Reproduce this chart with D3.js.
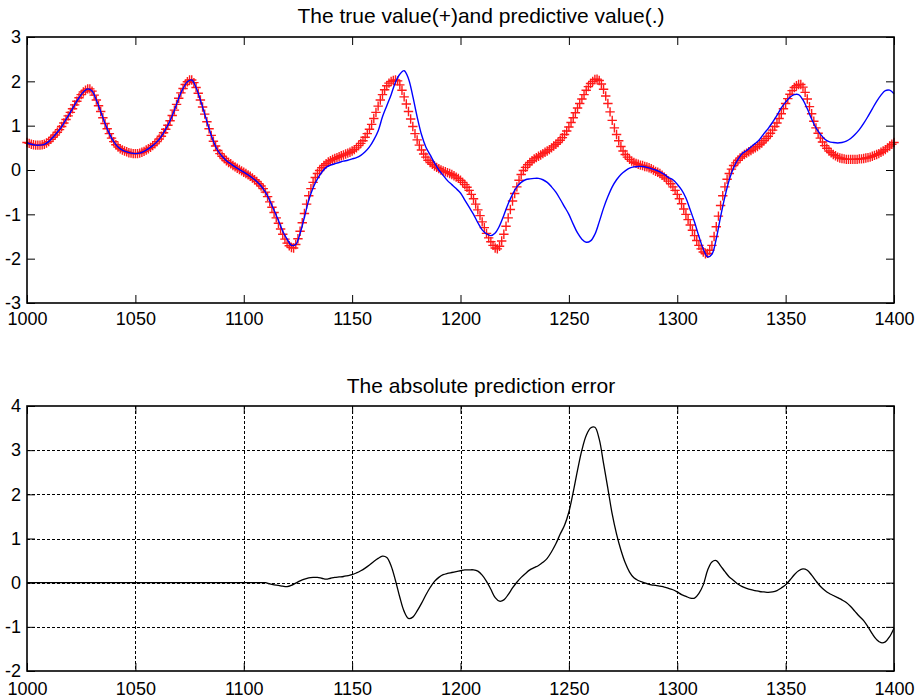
<!DOCTYPE html>
<html>
<head>
<meta charset="utf-8">
<script src="https://cdn.jsdelivr.net/npm/d3@7"></script>
<style>
  html, body { margin: 0; padding: 0; background: #fff; }
  svg { display: block; font-family: Arial, "Liberation Sans", sans-serif; }
</style>
</head>
<body>
<svg id="chart" width="921" height="698"></svg>
<script>
// Time index of the first sample
const xStart = 1000;

// True series, one value per time step (1000..1400)
const trueValues = [
  0.62,0.60,0.58,0.57,0.56,0.56,0.56,0.57,0.58,0.61,
  0.64,0.69,0.74,0.79,0.85,0.91,0.98,1.06,1.14,1.22,
  1.30,1.38,1.47,1.55,1.63,1.70,1.76,1.80,1.83,1.83,
  1.78,1.69,1.58,1.45,1.32,1.18,1.05,0.93,0.82,0.72,
  0.64,0.57,0.52,0.48,0.45,0.43,0.41,0.39,0.38,0.37,
  0.37,0.37,0.38,0.40,0.42,0.45,0.48,0.51,0.55,0.59,
  0.64,0.70,0.76,0.84,0.92,1.01,1.11,1.23,1.35,1.48,
  1.62,1.74,1.84,1.93,1.99,2.03,2.03,1.97,1.86,1.73,
  1.58,1.42,1.26,1.09,0.93,0.78,0.65,0.54,0.44,0.37,
  0.31,0.26,0.21,0.17,0.14,0.10,0.07,0.04,0.01,-0.02,
  -0.05,-0.08,-0.11,-0.14,-0.18,-0.22,-0.26,-0.31,-0.36,-0.42,
  -0.50,-0.60,-0.72,-0.84,-0.96,-1.08,-1.20,-1.33,-1.45,-1.56,
  -1.65,-1.71,-1.75,-1.76,-1.68,-1.55,-1.38,-1.19,-0.98,-0.77,
  -0.58,-0.42,-0.28,-0.17,-0.08,-0.01,0.05,0.10,0.14,0.18,
  0.21,0.24,0.26,0.28,0.30,0.32,0.34,0.36,0.38,0.40,
  0.43,0.46,0.50,0.55,0.60,0.66,0.74,0.82,0.92,1.03,
  1.16,1.30,1.44,1.58,1.70,1.81,1.90,1.96,2.00,2.02,
  2.03,2.01,1.92,1.80,1.65,1.49,1.32,1.15,0.98,0.82,
  0.68,0.56,0.45,0.36,0.29,0.22,0.17,0.13,0.09,0.06,
  0.03,0.00,-0.02,-0.04,-0.06,-0.08,-0.10,-0.13,-0.16,-0.19,
  -0.23,-0.28,-0.33,-0.39,-0.46,-0.55,-0.65,-0.77,-0.90,-1.03,
  -1.17,-1.30,-1.43,-1.53,-1.62,-1.70,-1.76,-1.78,-1.72,-1.60,
  -1.45,-1.27,-1.08,-0.89,-0.70,-0.53,-0.38,-0.23,-0.10,-0.01,
  0.06,0.12,0.17,0.21,0.25,0.28,0.31,0.34,0.37,0.40,
  0.43,0.46,0.50,0.54,0.58,0.62,0.67,0.73,0.80,0.88,
  0.97,1.07,1.18,1.29,1.40,1.50,1.60,1.70,1.80,1.88,
  1.95,2.00,2.04,2.05,2.02,1.94,1.82,1.67,1.50,1.31,
  1.12,0.95,0.80,0.66,0.53,0.43,0.35,0.29,0.24,0.20,
  0.17,0.15,0.13,0.11,0.10,0.08,0.07,0.05,0.03,0.00,
  -0.03,-0.05,-0.08,-0.12,-0.16,-0.20,-0.25,-0.31,-0.38,-0.46,
  -0.55,-0.65,-0.76,-0.88,-1.00,-1.12,-1.24,-1.36,-1.48,-1.59,
  -1.70,-1.78,-1.85,-1.89,-1.88,-1.81,-1.70,-1.50,-1.28,-1.04,
  -0.80,-0.58,-0.38,-0.21,-0.08,0.02,0.10,0.16,0.22,0.27,
  0.31,0.35,0.38,0.41,0.44,0.47,0.50,0.53,0.57,0.61,
  0.66,0.71,0.76,0.83,0.90,0.98,1.06,1.16,1.27,1.38,
  1.50,1.61,1.71,1.79,1.86,1.90,1.93,1.93,1.87,1.75,
  1.60,1.43,1.27,1.10,0.95,0.83,0.72,0.63,0.55,0.49,
  0.43,0.39,0.35,0.32,0.29,0.27,0.26,0.25,0.24,0.24,
  0.24,0.24,0.24,0.24,0.25,0.25,0.26,0.27,0.28,0.29,
  0.31,0.33,0.35,0.37,0.40,0.43,0.46,0.50,0.54,0.58,
  0.62
];

// Predicted series and prediction error, sampled every 2 time steps
const sampleStep = 2;
const predValues = [
  0.62,0.58,0.56,0.56,0.58,0.64,0.74,0.85,0.98,1.14,
  1.30,1.47,1.63,1.76,1.83,1.78,1.58,1.32,1.05,0.82,
  0.64,0.52,0.45,0.41,0.38,0.37,0.38,0.42,0.48,0.55,
  0.64,0.76,0.92,1.11,1.35,1.62,1.84,1.99,2.03,1.86,
  1.58,1.26,0.93,0.65,0.44,0.31,0.21,0.14,0.07,0.01,
  -0.05,-0.11,-0.18,-0.26,-0.36,-0.50,-0.69,-0.91,-1.14,-1.38,
  -1.56,-1.70,-1.68,-1.43,-1.06,-0.68,-0.40,-0.20,-0.05,0.06,
  0.11,0.14,0.17,0.20,0.22,0.25,0.28,0.33,0.41,0.52,
  0.68,0.88,1.20,1.45,1.70,1.98,2.16,2.24,2.06,1.66,
  1.20,0.80,0.52,0.34,0.16,0.00,-0.12,-0.24,-0.33,-0.42,
  -0.52,-0.68,-0.84,-1.00,-1.19,-1.35,-1.44,-1.48,-1.42,-1.26,
  -1.02,-0.76,-0.55,-0.38,-0.28,-0.22,-0.20,-0.19,-0.19,-0.22,
  -0.28,-0.38,-0.50,-0.66,-0.83,-1.00,-1.22,-1.42,-1.56,-1.63,
  -1.60,-1.45,-1.17,-0.86,-0.60,-0.38,-0.22,-0.10,-0.02,0.04,
  0.07,0.08,0.08,0.06,0.03,0.00,-0.04,-0.10,-0.17,-0.22,
  -0.32,-0.45,-0.63,-0.90,-1.18,-1.50,-1.78,-1.96,-1.90,-1.55,
  -1.05,-0.60,-0.22,0.05,0.24,0.37,0.44,0.52,0.60,0.69,
  0.82,0.94,1.08,1.23,1.40,1.53,1.64,1.70,1.70,1.58,
  1.38,1.15,0.95,0.81,0.70,0.64,0.62,0.61,0.62,0.65,
  0.71,0.80,0.91,1.05,1.21,1.38,1.55,1.69,1.79,1.80,
  1.72
];

const errorValues = [
  0,0,0,0,0,0,0,0,0,0,
  0,0,0,0,0,0,0,0,0,0,
  0,0,0,0,0,0,0,0,0,0,
  0,0,0,0,0,0,0,0,0,0,
  0,0,0,0,0,0,0,0,0,0,
  0,0,0,0,0,0,-0.03,-0.05,-0.06,-0.08,
  -0.09,-0.06,-0.01,0.04,0.08,0.11,0.12,0.12,0.10,0.08,
  0.10,0.12,0.13,0.14,0.16,0.18,0.22,0.27,0.33,0.40,
  0.48,0.55,0.60,0.57,0.38,0.05,-0.33,-0.65,-0.81,-0.78,
  -0.64,-0.47,-0.28,-0.11,0.03,0.12,0.18,0.21,0.23,0.25,
  0.27,0.29,0.29,0.29,0.26,0.17,0.03,-0.15,-0.34,-0.42,
  -0.39,-0.27,-0.12,0.01,0.12,0.21,0.29,0.34,0.39,0.46,
  0.55,0.70,0.88,1.10,1.30,1.60,2.05,2.55,3.00,3.33,
  3.50,3.52,3.25,2.70,2.13,1.55,1.10,0.74,0.45,0.24,
  0.11,0.05,0.01,-0.02,-0.05,-0.06,-0.08,-0.10,-0.13,-0.16,
  -0.21,-0.27,-0.31,-0.35,-0.35,-0.24,-0.05,0.28,0.47,0.50,
  0.38,0.25,0.13,0.05,-0.03,-0.09,-0.13,-0.16,-0.18,-0.20,
  -0.21,-0.22,-0.21,-0.18,-0.12,-0.05,0.06,0.18,0.27,0.31,
  0.28,0.17,0.04,-0.08,-0.17,-0.24,-0.29,-0.34,-0.39,-0.45,
  -0.54,-0.65,-0.76,-0.86,-1.00,-1.16,-1.29,-1.36,-1.34,-1.22,
  -1.03
];

// Axis ticks
const xTicks = [1000, 1050, 1100, 1150, 1200, 1250, 1300, 1350, 1400];
const topYTicks = [-3, -2, -1, 0, 1, 2, 3];
const bottomYTicks = [-2, -1, 0, 1, 2, 3, 4];

const topTitle = "The true value(+)and predictive value(.)";
const bottomTitle = "The absolute prediction error";

const svg = d3.select("#chart");
const left = 27, right = 894;
const tickLen = 8;
const tickFont = 18;
const titleFont = 21;
const titleX = 481;

function makePanel(cfg) {
  const x = d3.scaleLinear().domain([1000, 1400]).range([left, right]);
  const y = d3.scaleLinear().domain(cfg.yDomain).range([cfg.bottom, cfg.top]);
  const g = svg.append("g");

  // dashed grid
  if (cfg.grid) {
    const gg = g.append("g").attr("stroke", "#000").attr("stroke-width", 1)
      .attr("stroke-dasharray", "3,2").attr("shape-rendering", "crispEdges");
    gg.selectAll("line.vx").data(xTicks.slice(1, -1)).join("line")
      .attr("x1", d => Math.round(x(d)) + 0.5).attr("x2", d => Math.round(x(d)) + 0.5)
      .attr("y1", cfg.top).attr("y2", cfg.bottom);
    gg.selectAll("line.hy").data(cfg.yTicks.slice(1, -1)).join("line")
      .attr("y1", d => Math.round(y(d)) + 0.5).attr("y2", d => Math.round(y(d)) + 0.5)
      .attr("x1", left).attr("x2", right);
  }

  const fmt = d => String(d);
  const styleAxis = sel => {
    sel.select(".domain").remove();
    sel.selectAll(".tick line").attr("stroke", "#000").attr("stroke-width", 1);
    sel.selectAll(".tick text").attr("fill", "#000")
      .attr("font-size", tickFont).attr("font-family", "Arial, 'Liberation Sans', sans-serif");
  };

  g.append("g").attr("transform", `translate(0,${cfg.bottom})`)
    .call(d3.axisBottom(x).tickValues(xTicks).tickFormat(fmt)
      .tickSizeInner(-tickLen).tickSizeOuter(0).tickPadding(cfg.xPad))
    .call(styleAxis);
  g.append("g").attr("transform", `translate(0,${cfg.top})`)
    .call(d3.axisTop(x).tickValues(xTicks).tickFormat("")
      .tickSizeInner(-tickLen).tickSizeOuter(0))
    .call(styleAxis);
  g.append("g").attr("transform", `translate(${left},0)`)
    .call(d3.axisLeft(y).tickValues(cfg.yTicks).tickFormat(fmt)
      .tickSizeInner(-tickLen).tickSizeOuter(0).tickPadding(6))
    .call(styleAxis);
  g.append("g").attr("transform", `translate(${right},0)`)
    .call(d3.axisRight(y).tickValues(cfg.yTicks).tickFormat("")
      .tickSizeInner(-tickLen).tickSizeOuter(0))
    .call(styleAxis);

  // title
  g.append("text").attr("x", titleX).attr("y", cfg.titleY)
    .attr("text-anchor", "middle").attr("font-size", titleFont)
    .attr("fill", "#000").text(cfg.title);

  return { g, x, y };
}

// ---- upper panel: true values (+) and predicted values (line)
const topPanel = makePanel({
  top: 37, bottom: 303, yDomain: [-3, 3], yTicks: topYTicks,
  grid: false, title: topTitle, titleY: 23, xPad: 9
});

const plusPath = "M-4.7,0H4.7M0,-4.7V4.7";
topPanel.g.append("g").attr("stroke", "#ff1a1a").attr("stroke-width", 1.4).attr("fill", "none")
  .selectAll("path").data(trueValues).join("path")
  .attr("d", plusPath)
  .attr("transform", (d, i) => `translate(${topPanel.x(xStart + i)},${topPanel.y(d)})`);

const predLine = d3.line()
  .x((d, i) => topPanel.x(xStart + i * sampleStep))
  .y(d => topPanel.y(d))
  .curve(d3.curveCatmullRom.alpha(0.5));
topPanel.g.append("path").datum(predValues)
  .attr("d", predLine).attr("fill", "none")
  .attr("stroke", "#0000ff").attr("stroke-width", 1.4);

topPanel.g.append("rect").attr("x", left).attr("y", 37)
  .attr("width", right - left).attr("height", 303 - 37)
  .attr("fill", "none").attr("stroke", "#000").attr("stroke-width", 1.6);

// ---- lower panel: prediction error
const botPanel = makePanel({
  top: 406, bottom: 671, yDomain: [-2, 4], yTicks: bottomYTicks,
  grid: true, title: bottomTitle, titleY: 393, xPad: 11
});

const errLine = d3.line()
  .x((d, i) => botPanel.x(xStart + i * sampleStep))
  .y(d => botPanel.y(d))
  .curve(d3.curveCatmullRom.alpha(0.5));
botPanel.g.append("path").datum(errorValues)
  .attr("d", errLine).attr("fill", "none")
  .attr("stroke", "#000").attr("stroke-width", 1.3);

botPanel.g.append("rect").attr("x", left).attr("y", 406)
  .attr("width", right - left).attr("height", 671 - 406)
  .attr("fill", "none").attr("stroke", "#000").attr("stroke-width", 1.6);
</script>
</body>
</html>
